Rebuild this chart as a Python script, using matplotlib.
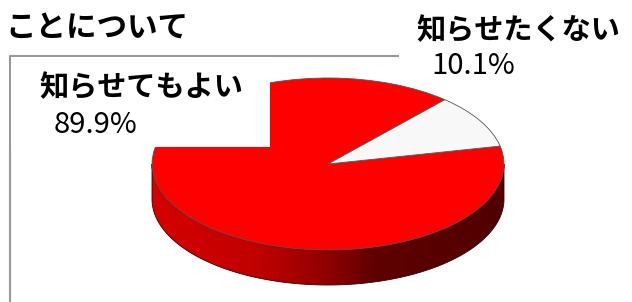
import numpy as np
import matplotlib.pyplot as plt
from matplotlib.patches import Polygon, Rectangle
from matplotlib.colors import LinearSegmentedColormap
from matplotlib.transforms import Affine2D

plt.rcParams['font.family'] = ['Noto Sans CJK JP', 'DejaVu Sans']

# data
title = 'ことについて'
labels = ['知らせてもよい', '知らせたくない']
values = [89.9, 10.1]
pct_labels = ['89.9%', '10.1%']
colors = ['#ff0000', '#f8f8f8']

W, H = 632, 302
fig = plt.figure(figsize=(W / 100, H / 100), dpi=100)
ax = fig.add_axes([0, 0, 1, 1])

# pie geometry (pixel units, y up)
cx, cy = 328, H - 164
a, b = 176, 86
depth = 35
start = 48.4

# side of the cylinder (front half), gradient fill
t = np.linspace(np.pi, 2 * np.pi, 200)
top_x = cx + a * np.cos(t)
top_y = cy + b * np.sin(t)
side = np.vstack([np.column_stack([top_x, top_y]),
                  np.column_stack([top_x[::-1], top_y[::-1] - depth])])
side_patch = Polygon(side, closed=True, facecolor='none', edgecolor='#3a0000', lw=0.6, zorder=3)
ax.add_patch(side_patch)
cmap = LinearSegmentedColormap.from_list(
    'side', [(0, '#d60000'), (0.3, '#c00000'), (0.5, '#900000'), (0.63, '#600000'), (1, '#500000')])
grad = np.linspace(0, 1, 256).reshape(1, -1)
im = ax.imshow(grad, cmap=cmap, aspect='auto', zorder=2,
               extent=[cx - a, cx + a, cy - b - depth, cy + 1], origin='lower')
im.set_clip_path(side_patch)

# top face
wedges, _ = ax.pie(values, colors=colors, startangle=start, counterclock=True,
                   center=(cx, cy), radius=a, frame=True,
                   wedgeprops=dict(edgecolor='#555555', linewidth=0.6))
squash = Affine2D().translate(-cx, -cy).scale(1, b / a).translate(cx, cy)
for w in wedges:
    w.set_transform(squash + ax.transData)
    w.set_zorder(4)

ax.set_aspect('auto')
ax.set_xlim(0, W)
ax.set_ylim(0, H)
ax.axis('off')

# plot-area border (partly hidden by label boxes)
ax.plot([10, 10, 399], [0, H - 56, H - 56], color='#999999', lw=1.5, zorder=5,
        solid_capstyle='butt')

# white label box covering part of the pie
ax.add_patch(Rectangle((11, H - 147), 259, 147 - 57, facecolor='white',
                       edgecolor='none', zorder=6))

ax.text(5, H - 28, title, fontsize=22, fontweight='bold', va='center', ha='left', zorder=7)
ax.text(39, H - 87, labels[0], fontsize=21, fontweight='bold', va='center', ha='left', zorder=7)
ax.text(54, H - 125, pct_labels[0], fontsize=21, va='center', ha='left', zorder=7)
ax.text(416, H - 30, labels[1], fontsize=21, fontweight='bold', va='center', ha='left', zorder=7)
ax.text(431, H - 66, pct_labels[1], fontsize=21, va='center', ha='left', zorder=7)

fig.savefig('out.png', dpi=100)
